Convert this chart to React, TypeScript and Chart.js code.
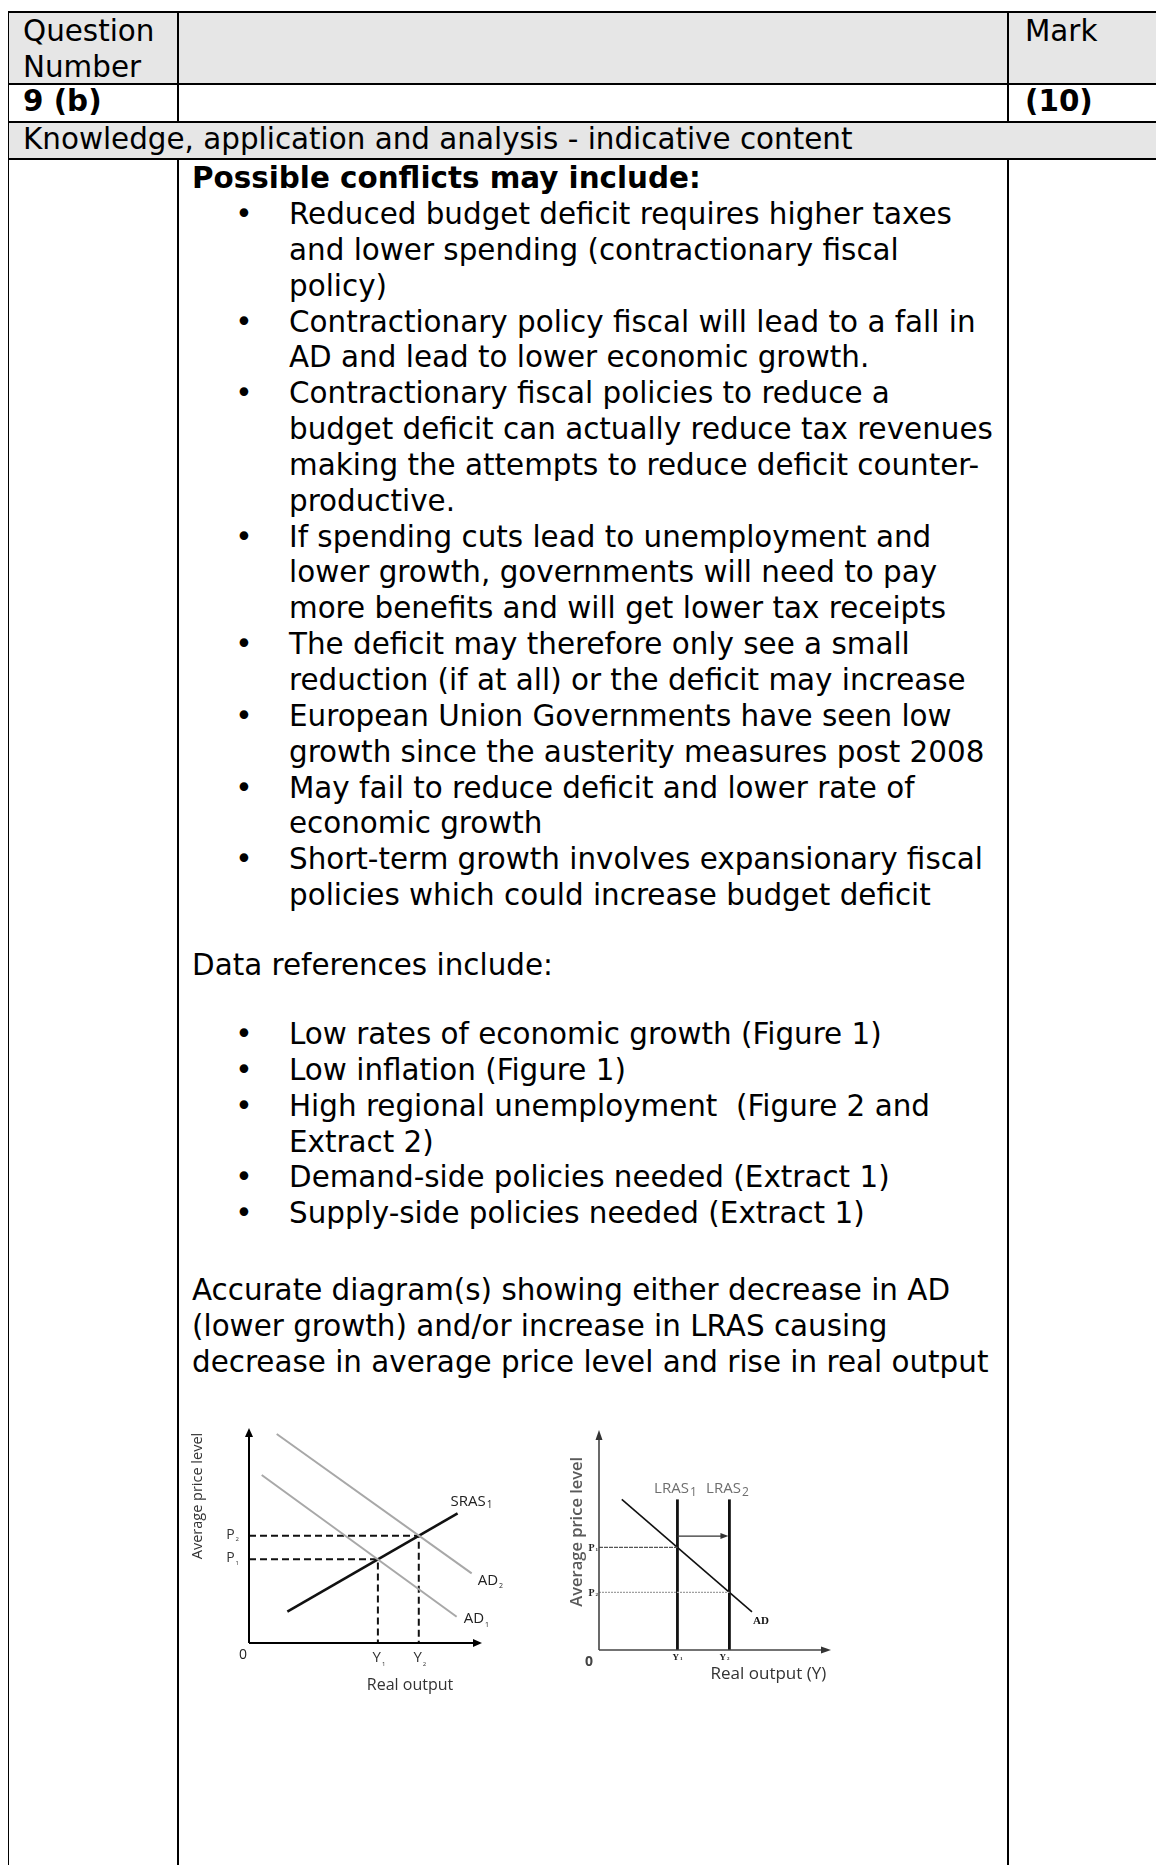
import React, { useEffect, useRef } from "react";
import { Chart, registerables } from "chart.js";

Chart.register(...registerables);

// ---------- Text content ----------
const HEADER_LEFT = ["Question", "Number"];
const HEADER_RIGHT = "Mark";
const QUESTION_ID = "9 (b)";
const QUESTION_MARK = "(10)";
const SECTION_TITLE = "Knowledge, application and analysis - indicative content";
const CONFLICTS_TITLE = "Possible conflicts may include:";
const CONFLICT_ITEMS: string[][] = [
  ["Reduced budget deficit requires higher taxes", "and lower spending (contractionary fiscal", "policy)"],
  ["Contractionary policy fiscal will lead to a fall in", "AD and lead to lower economic growth."],
  [
    "Contractionary fiscal policies to reduce a",
    "budget deficit can actually reduce tax revenues",
    "making the attempts to reduce deficit counter-",
    "productive.",
  ],
  [
    "If spending cuts lead to unemployment and",
    "lower growth, governments will need to pay",
    "more benefits and will get lower tax receipts",
  ],
  ["The deficit may therefore only see a small", "reduction (if at all) or the deficit may increase"],
  ["European Union Governments have seen low", "growth since the austerity measures post 2008"],
  ["May fail to reduce deficit and lower rate of", "economic growth"],
  ["Short-term growth involves expansionary fiscal", "policies which could increase budget deficit"],
];
const DATA_TITLE = "Data references include:";
const DATA_ITEMS: string[][] = [
  ["Low rates of economic growth (Figure 1)"],
  ["Low inflation (Figure 1)"],
  ["High regional unemployment\u00a0 (Figure 2 and", "Extract 2)"],
  ["Demand-side policies needed (Extract 1)"],
  ["Supply-side policies needed (Extract 1)"],
];
const DIAGRAM_TEXT = [
  "Accurate diagram(s) showing either decrease in AD",
  "(lower growth) and/or increase in LRAS causing",
  "decrease in average price level and rise in real output",
];

// ---------- Diagram 1: decrease in AD (abstract units, axes 0..100) ----------
const AXIS_MIN = 0;
const AXIS_MAX = 100;
const AD1_POINTS = [{ x: 5.5, y: 78.9 }, { x: 89.9, y: 12.3 }];
const AD2_POINTS = [{ x: 12, y: 98.1 }, { x: 96.4, y: 32.7 }];
const SRAS1_POINTS = [{ x: 16.6, y: 14.7 }, { x: 90.3, y: 60.9 }];
const LEFT_Y_VALUES = [55.8, 73.5]; // Y1, Y2
const LEFT_P_VALUES = [39.3, 50.4]; // P1, P2
const LEFT_TICK_LABELS = ["1", "2"];

// ---------- Diagram 2: increase in LRAS ----------
const LRAS_X_VALUES = [34.4, 57.2]; // LRAS1, LRAS2 (= Y1, Y2)
const LRAS_TOP = 69.4;
const AD_RIGHT_POINTS = [{ x: 10, y: 69.4 }, { x: 67.1, y: 17.6 }];
const RIGHT_P_VALUES = [47.3, 26.6]; // P1, P2
const SHIFT_ARROW_Y = 52.5;

const FONT_BODY = '"DejaVu Sans", Verdana, sans-serif';
const FONT_DIAG = '"Open Sans", "Noto Sans", sans-serif';
const FONT_SERIF = '"Liberation Serif", "DejaVu Serif", serif';

const LINE_H = 35.85;

function lineDs(data: { x: number; y: number }[], color: string, width: number, dash: number[] = []) {
  return {
    data,
    showLine: true,
    borderColor: color,
    backgroundColor: color,
    borderWidth: width,
    borderDash: dash,
    pointRadius: 0,
    pointHoverRadius: 0,
    fill: false,
    tension: 0,
    clip: false as any,
  };
}

function baseOptions(padding: { left: number; right: number; top: number; bottom: number }) {
  return {
    responsive: false,
    maintainAspectRatio: false,
    animation: false as const,
    devicePixelRatio: 1,
    events: [] as any[],
    layout: { padding },
    plugins: { legend: { display: false }, tooltip: { enabled: false }, title: { display: false } },
    scales: {
      x: { type: "linear" as const, min: AXIS_MIN, max: AXIS_MAX, display: false },
      y: { type: "linear" as const, min: AXIS_MIN, max: AXIS_MAX, display: false },
    },
  };
}

function arrowHead(ctx: CanvasRenderingContext2D, x: number, y: number, dir: "right" | "up", len: number, half: number, color: string) {
  ctx.save();
  ctx.fillStyle = color;
  ctx.beginPath();
  if (dir === "right") {
    ctx.moveTo(x, y);
    ctx.lineTo(x - len, y - half);
    ctx.lineTo(x - len, y + half);
  } else {
    ctx.moveTo(x, y);
    ctx.lineTo(x - half, y + len);
    ctx.lineTo(x + half, y + len);
  }
  ctx.closePath();
  ctx.fill();
  ctx.restore();
}

function subText(
  ctx: CanvasRenderingContext2D,
  main: string,
  sub: string,
  x: number,
  y: number,
  font: string,
  subFont: string,
  subDy: number,
  align: "left" | "center" | "right",
  color: string
) {
  ctx.save();
  ctx.fillStyle = color;
  ctx.textBaseline = "middle";
  ctx.textAlign = "left";
  ctx.font = font;
  const w1 = ctx.measureText(main).width;
  ctx.font = subFont;
  const w2 = ctx.measureText(sub).width;
  const total = w1 + w2 + 1;
  let sx = x;
  if (align === "center") sx = x - total / 2;
  if (align === "right") sx = x - total;
  ctx.font = font;
  ctx.fillText(main, sx, y);
  ctx.font = subFont;
  ctx.fillText(sub, sx + w1 + 1, y + subDy);
  ctx.restore();
}

function plainText(ctx: CanvasRenderingContext2D, t: string, x: number, y: number, font: string, color: string, align: CanvasTextAlign = "center", rotate = 0) {
  ctx.save();
  ctx.translate(x, y);
  if (rotate) ctx.rotate(rotate);
  ctx.font = font;
  ctx.fillStyle = color;
  ctx.textAlign = align;
  ctx.textBaseline = "middle";
  ctx.fillText(t, 0, 0);
  ctx.restore();
}

// ---------- Left chart config ----------
function buildLeft(): any {
  const eq = LEFT_Y_VALUES.map((yv, i) => ({ yv, pv: LEFT_P_VALUES[i] }));
  const plugin = {
    id: "leftLabels",
    afterDatasetsDraw(chart: any) {
      const ctx: CanvasRenderingContext2D = chart.ctx;
      const X = (v: number) => chart.scales.x.getPixelForValue(v);
      const Y = (v: number) => chart.scales.y.getPixelForValue(v);
      arrowHead(ctx, X(AXIS_MAX) + 2, Y(0), "right", 9, 4, "#000");
      arrowHead(ctx, X(0), Y(AXIS_MAX) - 2, "up", 9, 4, "#000");
      const se = SRAS1_POINTS[1];
      subText(ctx, "SRAS", "1", X(se.x) - 7, Y(se.y) - 12, `15px ${FONT_DIAG}`, `10px ${FONT_DIAG}`, 4, "left", "#222");
      const a2 = AD2_POINTS[1];
      subText(ctx, "AD", "2", X(a2.x) + 6, Y(a2.y) + 7, `15px ${FONT_DIAG}`, `7px ${FONT_DIAG}`, 6, "left", "#222");
      const a1 = AD1_POINTS[1];
      subText(ctx, "AD", "1", X(a1.x) + 7, Y(a1.y) + 2, `15px ${FONT_DIAG}`, `7px ${FONT_DIAG}`, 6, "left", "#222");
      eq.forEach((e, i) => {
        subText(ctx, "P", LEFT_TICK_LABELS[i], X(0) - 10, Y(e.pv) - 1, `14px ${FONT_DIAG}`, `6px ${FONT_DIAG}`, 5, "right", "#333");
        subText(ctx, "Y", LEFT_TICK_LABELS[i], X(e.yv) + 1, Y(0) + 15, `15px ${FONT_DIAG}`, `6px ${FONT_DIAG}`, 6, "center", "#333");
      });
      plainText(ctx, "0", X(0) - 6, Y(0) + 12, `14px ${FONT_DIAG}`, "#222");
      plainText(ctx, "Real output", X(69.7), Y(0) + 42, `16px ${FONT_DIAG}`, "#333");
      plainText(ctx, "Average price level", X(0) - 51, Y(69), `14.5px ${FONT_DIAG}`, "#333", "center", -Math.PI / 2);
    },
  };
  return {
    type: "scatter",
    data: {
      datasets: [
        lineDs([{ x: 0, y: 0 }, { x: AXIS_MAX, y: 0 }], "#000", 2),
        lineDs([{ x: 0, y: 0 }, { x: 0, y: AXIS_MAX }], "#000", 2),
        lineDs(AD2_POINTS, "#a8a8a8", 2),
        lineDs(AD1_POINTS, "#a8a8a8", 2),
        ...eq.map((e) =>
          lineDs([{ x: 0, y: e.pv }, { x: e.yv, y: e.pv }, { x: e.yv, y: 0 }], "#111", 2, [7, 4])
        ),
        lineDs(SRAS1_POINTS, "#111", 2.6),
      ],
    },
    options: baseOptions({ left: 64, right: 25, top: 10, bottom: 57 }),
    plugins: [plugin],
  };
}

// ---------- Right chart config ----------
function buildRight(): any {
  const plugin = {
    id: "rightLabels",
    afterDatasetsDraw(chart: any) {
      const ctx: CanvasRenderingContext2D = chart.ctx;
      const X = (v: number) => chart.scales.x.getPixelForValue(v);
      const Y = (v: number) => chart.scales.y.getPixelForValue(v);
      arrowHead(ctx, X(AXIS_MAX) + 4, Y(0), "right", 10, 3.5, "#333");
      arrowHead(ctx, X(0), Y(AXIS_MAX) - 3, "up", 10, 3.5, "#333");
      arrowHead(ctx, X(LRAS_X_VALUES[1]) - 1, Y(SHIFT_ARROW_Y), "right", 8, 3, "#333");
      LRAS_X_VALUES.forEach((xv, i) => {
        subText(ctx, "LRAS", String(i + 1), X(xv) - 2, Y(LRAS_TOP) - 11, `15px ${FONT_DIAG}`, `12px ${FONT_DIAG}`, 4, "center", "#6e6e6e");
        subText(ctx, "Y", String(i + 1), X(xv) - (i === 0 ? 0 : 5), Y(0) + 8, `bold 9px ${FONT_SERIF}`, `bold 5px ${FONT_SERIF}`, 1, "center", "#222");
      });
      RIGHT_P_VALUES.forEach((pv, i) => {
        subText(ctx, "P", String(i + 1), X(0) - 1, Y(pv) + 1, `bold 10px ${FONT_SERIF}`, `bold 5px ${FONT_SERIF}`, 1, "right", "#222");
      });
      const ae = AD_RIGHT_POINTS[1];
      plainText(ctx, "AD", X(ae.x) + 1, Y(ae.y) + 9, `bold 11px ${FONT_SERIF}`, "#111", "left");
      plainText(ctx, "0", X(0) - 10, Y(0) + 12, `bold 14px ${FONT_DIAG}`, "#444");
      plainText(ctx, "Real output (Y)", X(74.3), Y(0) + 24, `17px ${FONT_DIAG}`, "#333");
      plainText(ctx, "Average price level", X(0) - 22, Y(54.5), `600 16.5px ${FONT_DIAG}`, "#5a5a5a", "center", -Math.PI / 2);
    },
  };
  return {
    type: "scatter",
    data: {
      datasets: [
        lineDs([{ x: 0, y: 0 }, { x: AXIS_MAX, y: 0 }], "#444", 1.6),
        lineDs([{ x: 0, y: 0 }, { x: 0, y: AXIS_MAX }], "#444", 1.6),
        lineDs([{ x: 0, y: RIGHT_P_VALUES[0] }, { x: LRAS_X_VALUES[0], y: RIGHT_P_VALUES[0] }], "#555", 1.2, [4, 1]),
        lineDs([{ x: 0, y: RIGHT_P_VALUES[1] }, { x: LRAS_X_VALUES[1], y: RIGHT_P_VALUES[1] }], "#a0a0a0", 1.2, [2, 1]),
        lineDs([{ x: LRAS_X_VALUES[0], y: SHIFT_ARROW_Y }, { x: LRAS_X_VALUES[1] - 3, y: SHIFT_ARROW_Y }], "#333", 1.4),
        ...LRAS_X_VALUES.map((xv) => lineDs([{ x: xv, y: 0 }, { x: xv, y: LRAS_TOP }], "#111", 2.8)),
        lineDs(AD_RIGHT_POINTS, "#111", 1.6),
      ],
    },
    options: baseOptions({ left: 44, right: 18, top: 13, bottom: 45 }),
    plugins: [plugin],
  };
}

function Diagram(props: { left: number; top: number; width: number; height: number; build: () => any }) {
  const ref = useRef<HTMLCanvasElement>(null);
  useEffect(() => {
    if (!ref.current) return;
    const chart = new Chart(ref.current, props.build());
    return () => chart.destroy();
  }, []);
  return (
    <canvas
      ref={ref}
      width={props.width}
      height={props.height}
      style={{ position: "absolute", left: props.left, top: props.top, width: props.width, height: props.height }}
    />
  );
}

const hLine = (top: number, left = 7, right = 1164) => ({
  position: "absolute" as const,
  left,
  top,
  width: right - left,
  height: 2,
  background: "#000",
});
const vLine = (left: number, top: number, bottom: number) => ({
  position: "absolute" as const,
  left,
  top,
  width: 2,
  height: bottom - top,
  background: "#000",
});

function TextBlock(props: { top: number; left: number; lines: string[]; bold?: boolean }) {
  return (
    <div style={{ position: "absolute", top: props.top, left: props.left, fontWeight: props.bold ? "bold" : "normal" }}>
      {props.lines.map((l, i) => (
        <div key={i} style={{ height: LINE_H, lineHeight: `${LINE_H}px`, whiteSpace: "pre" }}>
          {l}
        </div>
      ))}
    </div>
  );
}

function BulletList(props: { top: number; items: string[][] }) {
  const rows: { text: string; bullet: boolean }[] = [];
  props.items.forEach((it) => it.forEach((t, i) => rows.push({ text: t, bullet: i === 0 })));
  return (
    <div style={{ position: "absolute", top: props.top, left: 0 }}>
      {rows.map((r, i) => (
        <div key={i} style={{ position: "relative", height: LINE_H, lineHeight: `${LINE_H}px`, whiteSpace: "pre" }}>
          {r.bullet && <span style={{ position: "absolute", left: 232, width: 24, textAlign: "center" }}>{"\u2022"}</span>}
          <span style={{ position: "absolute", left: 289 }}>{r.text}</span>
        </div>
      ))}
    </div>
  );
}

export default function App() {
  useEffect(() => {
    document.documentElement.style.overflow = "hidden";
  }, []);
  return (
    <div
      style={{
        position: "relative",
        margin: -8,
        width: 1164,
        height: 1873,
        overflow: "hidden",
        background: "#fff",
        fontFamily: FONT_BODY,
        fontSize: 29.4,
        color: "#000",
      }}
    >
      {/* row backgrounds */}
      <div style={{ position: "absolute", left: 9, top: 13, width: 1155, height: 70, background: "#e6e6e6" }} />
      <div style={{ position: "absolute", left: 9, top: 123, width: 1155, height: 35, background: "#e6e6e6" }} />
      {/* borders */}
      <div style={hLine(11)} />
      <div style={hLine(83)} />
      <div style={hLine(121)} />
      <div style={hLine(158)} />
      <div style={vLine(7, 11, 1873)} />
      <div style={vLine(177, 11, 123)} />
      <div style={vLine(1007, 11, 123)} />
      <div style={vLine(177, 158, 1873)} />
      <div style={vLine(1007, 158, 1873)} />

      <TextBlock top={14} left={23} lines={HEADER_LEFT} />
      <TextBlock top={14} left={1025} lines={[HEADER_RIGHT]} />
      <TextBlock top={84} left={23} lines={[QUESTION_ID]} bold />
      <TextBlock top={84} left={1025} lines={[QUESTION_MARK]} bold />
      <TextBlock top={122} left={23} lines={[SECTION_TITLE]} />

      <TextBlock top={161} left={192} lines={[CONFLICTS_TITLE]} bold />
      <BulletList top={197} items={CONFLICT_ITEMS} />
      <TextBlock top={948} left={192} lines={[DATA_TITLE]} />
      <BulletList top={1017} items={DATA_ITEMS} />
      <TextBlock top={1273} left={192} lines={DIAGRAM_TEXT} />

      <Diagram left={185} top={1420} width={320} height={280} build={buildLeft} />
      <Diagram left={555} top={1420} width={290} height={275} build={buildRight} />
    </div>
  );
}
